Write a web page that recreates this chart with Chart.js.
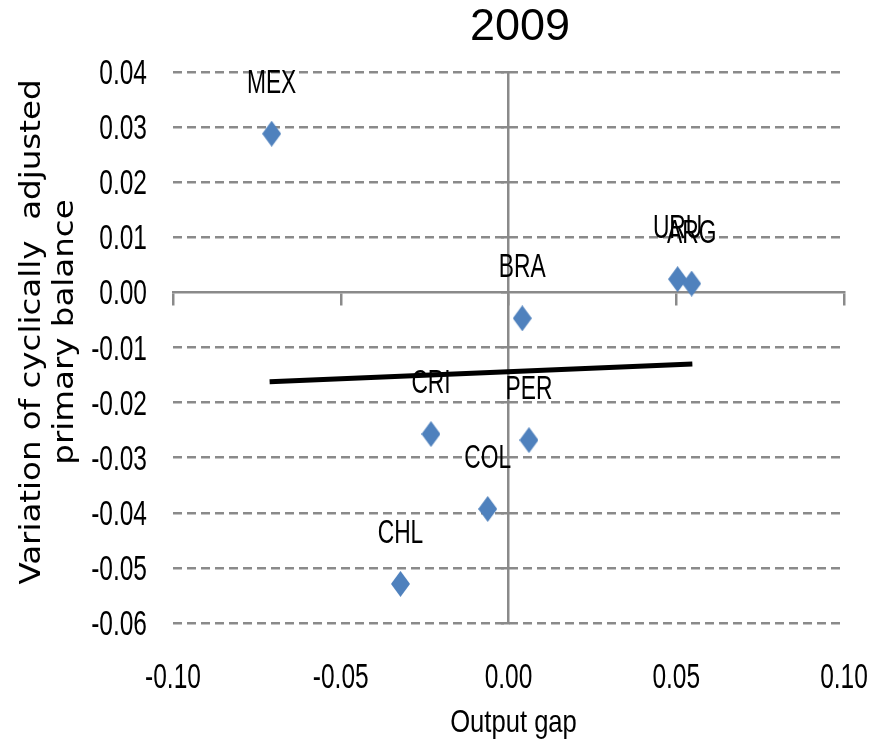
<!DOCTYPE html>
<html>
<head>
<meta charset="utf-8">
<script src="https://cdn.jsdelivr.net/npm/chart.js@4/dist/chart.umd.min.js"></script>
<style>
  html, body { margin: 0; padding: 0; background: #fff; }
</style>
</head>
<body>
<canvas id="chart" width="888" height="742"></canvas>
<script>
// values
const countries = ["MEX", "URU", "ARG", "BRA", "CRI", "PER", "COL", "CHL"];
const outputGap = [-0.0706, 0.0504, 0.0546, 0.0041, -0.0231, 0.0061, -0.0062, -0.0322];
const balanceChange = [0.0288, 0.0024, 0.0016, -0.0047, -0.0257, -0.0268, -0.0393, -0.0529];
const trendX = [-0.0712, 0.0548];
const trendY = [-0.0162, -0.0130];
const xRange = [-0.10, 0.10];
const yRange = [-0.06, 0.04];
const xStep = 0.05;
const yStep = 0.01;
const chartTitle = "2009";
const yTitle = ["Variation of cyclically  adjusted", "primary balance"];
const xTitle = "Output gap";

const SANS = "'Liberation Sans', Arial, sans-serif";
const GRAY = "#8a8a8a";

function diamond(w, h, color) {
  const c = document.createElement("canvas");
  c.width = w;
  c.height = h;
  const g = c.getContext("2d");
  g.fillStyle = color;
  g.beginPath();
  g.moveTo(w / 2, 0);
  g.lineTo(w, h / 2);
  g.lineTo(w / 2, h);
  g.lineTo(0, h / 2);
  g.closePath();
  g.fill();
  return c;
}

const fmt = (v) => (Math.abs(v) < 1e-9 ? 0 : v).toFixed(2);

// the source picture was stretched vertically, so its text is tall and narrow
function squeezeText(ctx, text, x, y, size, sx, align) {
  ctx.save();
  ctx.translate(x, y);
  ctx.scale(sx, 1);
  ctx.font = size + "px " + SANS;
  ctx.fillStyle = "#000";
  ctx.textAlign = align;
  ctx.textBaseline = "alphabetic";
  ctx.fillText(text, 0, 0);
  ctx.restore();
}

const annotate = {
  id: "annotate",
  afterDatasetsDraw(chart) {
    const ctx = chart.ctx;
    chart.getDatasetMeta(0).data.forEach((pt, i) => {
      squeezeText(ctx, countries[i], pt.x, pt.y - 41, 33, 0.69, "center");
    });
  },
  afterDraw(chart) {
    const ctx = chart.ctx;
    const area = chart.chartArea;
    const xs = chart.scales.x;
    const ys = chart.scales.y;

    // tick labels from the library's own ticks
    ys.ticks.forEach((t) => {
      squeezeText(ctx, fmt(t.value), area.left - 26, ys.getPixelForValue(t.value) + 12, 35, 0.70, "right");
    });
    xs.ticks.forEach((t) => {
      squeezeText(ctx, fmt(t.value), xs.getPixelForValue(t.value), area.bottom + 65, 35, 0.70, "center");
    });

    // axis titles
    squeezeText(ctx, xTitle, (area.left + area.right) / 2 + 5, area.bottom + 109, 32, 0.80, "center");

    const baselines = [40, 73];
    yTitle.forEach((line, i) => {
      ctx.save();
      ctx.translate(baselines[i], 332);
      ctx.rotate(-Math.PI / 2);
      ctx.scale(1.16, 1);
      ctx.fillStyle = "#000";
      ctx.font = "28px 'DejaVu Sans', sans-serif";
      ctx.textAlign = "center";
      ctx.textBaseline = "alphabetic";
      ctx.fillText(line, 0, 0);
      ctx.restore();
    });

    // chart title
    ctx.save();
    ctx.fillStyle = "#000";
    ctx.font = "45px " + SANS;
    ctx.textAlign = "center";
    ctx.textBaseline = "alphabetic";
    ctx.fillText(chartTitle, 520, 40);
    ctx.restore();
  }
};

new Chart(document.getElementById("chart"), {
  type: "scatter",
  data: {
    datasets: [
      {
        label: "countries",
        data: outputGap.map((x, i) => ({x: x, y: balanceChange[i]})),
        pointStyle: diamond(19, 26, "#4f81bd"),
        pointRadius: 13,
        order: 0
      },
      {
        type: "line",
        label: "trend",
        data: trendX.map((x, i) => ({x: x, y: trendY[i]})),
        borderColor: "#000",
        borderWidth: 5,
        pointRadius: 0,
        fill: false,
        order: 1
      }
    ]
  },
  options: {
    responsive: false,
    animation: false,
    layout: {padding: {top: 72, right: 44, bottom: 0, left: 0}},
    plugins: {
      legend: {display: false},
      tooltip: {enabled: false},
      title: {display: false}
    },
    scales: {
      x: {
        type: "linear",
        position: "bottom",
        min: xRange[0],
        max: xRange[1],
        grid: {display: false, drawTicks: false},
        border: {display: false},
        ticks: {display: false, stepSize: xStep},
        afterFit(scale) { scale.height = 119; }
      },
      y: {
        type: "linear",
        position: "left",
        min: yRange[0],
        max: yRange[1],
        grid: {
          drawTicks: false,
          lineWidth: 2.5,
          color: (c) => (Math.abs(c.tick.value) < 1e-9 ? "rgba(0,0,0,0)" : GRAY)
        },
        border: {display: false, dash: [9, 5]},
        ticks: {display: false, stepSize: yStep},
        afterFit(scale) { scale.width = 173; }
      },
      x0: {
        axis: "x",
        type: "linear",
        position: {y: 0},
        min: xRange[0],
        max: xRange[1],
        grid: {drawOnChartArea: false, drawTicks: true, tickLength: 12, color: GRAY, lineWidth: 2.5},
        border: {display: true, color: GRAY, width: 2.5},
        ticks: {display: false, stepSize: xStep}
      },
      y0: {
        axis: "y",
        type: "linear",
        position: {x: 0},
        min: yRange[0],
        max: yRange[1],
        grid: {drawOnChartArea: false, drawTicks: true, tickLength: 6, color: GRAY, lineWidth: 2.5},
        border: {display: true, color: GRAY, width: 2.5},
        ticks: {display: false, stepSize: yStep}
      }
    }
  },
  plugins: [annotate]
});
</script>
</body>
</html>
